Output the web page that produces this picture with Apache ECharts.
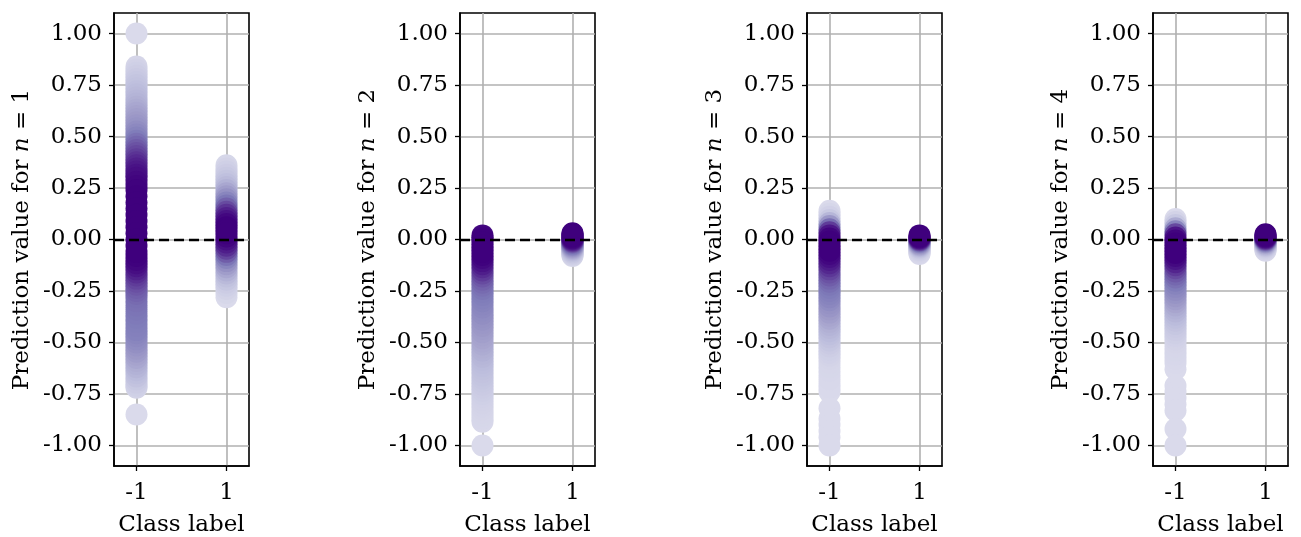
<!DOCTYPE html>
<html>
<head>
<meta charset="utf-8">
<script src="https://cdn.jsdelivr.net/npm/echarts@6/dist/echarts.min.js"></script>
<style>
html,body{margin:0;padding:0;background:#fff;}
#chart{width:1301px;height:537px;}
</style>
</head>
<body>
<div id="chart"></div>
<script>
// ---- Data ----
const classLabels = [-1, 1];
const panelN = [1, 2, 3, 4];
const yTicks = [-1, -0.75, -0.5, -0.25, 0, 0.25, 0.5, 0.75, 1];

// Panel n=1 (prediction values and relative point density)
const n1NegY = [1.00,0.84,0.825,0.81,0.795,0.78,0.765,0.75,0.735,0.72,0.705,0.69,0.675,0.66,0.645,0.63,0.615,0.60,0.585,0.57,0.555,0.54,0.525,0.51,0.495,0.48,0.465,0.45,0.435,0.42,0.405,0.39,0.375,0.36,0.345,0.33,0.315,0.30,0.28,0.26,0.24,0.21,0.18,0.15,0.12,0.09,0.06,0.03,0.00,-0.03,-0.06,-0.08,-0.10,-0.115,-0.13,-0.145,-0.16,-0.175,-0.19,-0.205,-0.22,-0.235,-0.25,-0.265,-0.28,-0.30,-0.32,-0.34,-0.36,-0.38,-0.40,-0.42,-0.44,-0.455,-0.47,-0.485,-0.50,-0.515,-0.53,-0.545,-0.56,-0.575,-0.59,-0.605,-0.62,-0.635,-0.65,-0.665,-0.68,-0.695,-0.71,-0.72,-0.85];
const n1NegD = [0.00,0.03,0.045,0.06,0.075,0.09,0.105,0.12,0.135,0.15,0.165,0.18,0.195,0.21,0.23,0.25,0.27,0.29,0.31,0.33,0.35,0.37,0.40,0.43,0.46,0.50,0.54,0.58,0.62,0.66,0.70,0.74,0.78,0.82,0.86,0.89,0.92,0.94,0.96,0.98,0.99,1.00,1.00,1.00,1.00,1.00,1.00,1.00,1.00,1.00,1.00,0.99,0.97,0.94,0.90,0.85,0.80,0.75,0.71,0.67,0.64,0.61,0.59,0.57,0.55,0.54,0.53,0.52,0.51,0.50,0.49,0.48,0.47,0.45,0.43,0.41,0.39,0.36,0.34,0.32,0.29,0.27,0.24,0.22,0.20,0.17,0.15,0.13,0.10,0.08,0.06,0.04,0.00];
const n1PosY = [0.36,0.345,0.33,0.315,0.30,0.285,0.27,0.255,0.24,0.225,0.21,0.195,0.18,0.165,0.15,0.135,0.12,0.105,0.09,0.075,0.06,0.045,0.03,0.015,0.00,-0.015,-0.03,-0.045,-0.06,-0.075,-0.09,-0.105,-0.12,-0.135,-0.15,-0.165,-0.18,-0.195,-0.21,-0.225,-0.24,-0.26,-0.28];
const n1PosD = [0.02,0.04,0.06,0.08,0.10,0.12,0.15,0.18,0.22,0.27,0.32,0.38,0.45,0.52,0.60,0.69,0.78,0.86,0.92,0.97,1.00,1.00,1.00,0.98,0.93,0.87,0.80,0.71,0.62,0.53,0.45,0.38,0.32,0.27,0.22,0.18,0.14,0.11,0.08,0.06,0.04,0.02,0.00];

// Panel n=2
const n2NegY = [0.02,0.01,0.00,-0.015,-0.03,-0.045,-0.06,-0.075,-0.09,-0.105,-0.12,-0.135,-0.15,-0.165,-0.18,-0.195,-0.21,-0.225,-0.24,-0.255,-0.27,-0.285,-0.30,-0.315,-0.33,-0.345,-0.36,-0.375,-0.39,-0.405,-0.42,-0.435,-0.45,-0.465,-0.48,-0.495,-0.51,-0.525,-0.54,-0.555,-0.57,-0.585,-0.60,-0.615,-0.63,-0.645,-0.66,-0.675,-0.69,-0.705,-0.72,-0.735,-0.75,-0.765,-0.78,-0.795,-0.81,-0.825,-0.84,-0.855,-0.87,-0.885,-1.00];
const n2NegD = [0.97,0.99,1.00,1.00,1.00,1.00,1.00,0.99,0.96,0.92,0.87,0.81,0.75,0.69,0.64,0.60,0.57,0.54,0.52,0.50,0.49,0.47,0.46,0.44,0.43,0.41,0.40,0.38,0.37,0.35,0.34,0.32,0.31,0.29,0.28,0.26,0.25,0.23,0.22,0.20,0.19,0.17,0.16,0.15,0.14,0.13,0.12,0.11,0.10,0.09,0.08,0.07,0.06,0.05,0.045,0.04,0.035,0.03,0.025,0.02,0.015,0.01,0.00];
const n2PosY = [0.03,0.025,0.02,0.015,0.01,0.005,0.00,-0.005,-0.01,-0.015,-0.02,-0.025,-0.03,-0.035,-0.04,-0.045,-0.05,-0.055,-0.06,-0.065,-0.07,-0.075,-0.08];
const n2PosD = [1.00,1.00,1.00,1.00,0.98,0.95,0.88,0.80,0.70,0.60,0.52,0.45,0.38,0.32,0.27,0.22,0.18,0.14,0.11,0.08,0.06,0.04,0.02];

// Panel n=3
const n3NegY = [0.14,0.125,0.11,0.095,0.08,0.065,0.05,0.035,0.02,0.005,-0.01,-0.025,-0.04,-0.055,-0.07,-0.085,-0.10,-0.115,-0.13,-0.145,-0.16,-0.175,-0.19,-0.205,-0.22,-0.235,-0.25,-0.265,-0.28,-0.295,-0.31,-0.325,-0.34,-0.355,-0.37,-0.385,-0.40,-0.415,-0.43,-0.445,-0.46,-0.475,-0.49,-0.505,-0.52,-0.535,-0.55,-0.565,-0.58,-0.60,-0.62,-0.64,-0.66,-0.68,-0.70,-0.72,-0.74,-0.82,-0.87,-0.90,-0.93,-0.96,-1.00];
const n3NegD = [0.00,0.02,0.05,0.10,0.20,0.35,0.55,0.75,0.90,0.98,1.00,1.00,1.00,1.00,0.97,0.93,0.88,0.83,0.77,0.71,0.66,0.62,0.58,0.55,0.52,0.50,0.48,0.46,0.44,0.41,0.38,0.36,0.33,0.31,0.28,0.26,0.23,0.21,0.19,0.17,0.15,0.13,0.11,0.09,0.075,0.06,0.05,0.04,0.03,0.025,0.02,0.015,0.01,0.01,0.005,0.005,0.00,0.00,0.00,0.00,0.00,0.00,0.00];
const n3PosY = [0.02,0.015,0.01,0.005,0.00,-0.005,-0.01,-0.015,-0.02,-0.025,-0.03,-0.035,-0.04,-0.045,-0.05,-0.055,-0.06,-0.065,-0.07];
const n3PosD = [1.00,1.00,0.97,0.90,0.78,0.65,0.52,0.42,0.33,0.26,0.20,0.15,0.11,0.08,0.06,0.04,0.025,0.015,0.005];

// Panel n=4
const n4NegY = [0.10,0.085,0.07,0.055,0.04,0.025,0.01,-0.005,-0.02,-0.035,-0.05,-0.065,-0.08,-0.095,-0.11,-0.125,-0.14,-0.155,-0.17,-0.185,-0.20,-0.215,-0.23,-0.245,-0.26,-0.275,-0.29,-0.305,-0.32,-0.335,-0.35,-0.365,-0.38,-0.395,-0.41,-0.425,-0.44,-0.455,-0.47,-0.485,-0.50,-0.52,-0.54,-0.56,-0.58,-0.60,-0.63,-0.71,-0.74,-0.77,-0.80,-0.83,-0.92,-1.00];
const n4NegD = [0.00,0.04,0.10,0.25,0.45,0.70,0.90,0.98,1.00,1.00,1.00,1.00,0.96,0.91,0.84,0.76,0.69,0.63,0.58,0.54,0.50,0.46,0.43,0.40,0.37,0.34,0.31,0.28,0.25,0.22,0.20,0.17,0.15,0.13,0.11,0.09,0.08,0.065,0.05,0.04,0.03,0.025,0.02,0.015,0.01,0.005,0.00,0.00,0.00,0.00,0.00,0.00,0.00,0.00];
const n4PosY = [0.025,0.02,0.015,0.01,0.005,0.00,-0.005,-0.01,-0.015,-0.02,-0.025,-0.03,-0.035,-0.04,-0.045,-0.05,-0.055];
const n4PosD = [1.00,1.00,0.98,0.93,0.82,0.68,0.54,0.42,0.32,0.24,0.18,0.13,0.09,0.06,0.04,0.025,0.01];

const panels = [
  {neg:[n1NegY,n1NegD], pos:[n1PosY,n1PosD]},
  {neg:[n2NegY,n2NegD], pos:[n2PosY,n2PosD]},
  {neg:[n3NegY,n3NegD], pos:[n3PosY,n3PosD]},
  {neg:[n4NegY,n4NegD], pos:[n4PosY,n4PosD]}
];

// ---- Styling ----
const FONT = 'DejaVu Serif';
const purples = ['#dadaeb','#bcbddc','#9e9ac8','#807dba','#6a51a3','#54278f','#3f007d'];
const gridLefts = [114, 460, 807, 1153];
const gridW = 135, gridTop = 13, gridH = 453;

function build(yArr, dArr, x) {
  const pts = yArr.map((y, k) => [x, y, dArr[k]]);
  pts.sort((a, b) => a[2] - b[2]);
  return pts;
}

const grids = [], xAxes = [], yAxes = [], series = [];
panels.forEach((p, i) => {
  grids.push({left: gridLefts[i], top: gridTop, width: gridW, height: gridH,
    containLabel: false, outerBoundsMode: 'none',
    show: true, borderColor: '#000', borderWidth: 1.6, backgroundColor: 'transparent'});
  xAxes.push({
    type: 'value', gridIndex: i, min: -1.5, max: 1.5,
    axisLine: {show: true, onZero: false, lineStyle: {color: '#000', width: 1.6}},
    axisTick: {show: true, customValues: classLabels, length: 5, lineStyle: {color: '#000', width: 1.3}},
    axisLabel: {customValues: classLabels, formatter: v => String(v), color: '#000',
      fontFamily: FONT, fontSize: 23, margin: 16},
    splitLine: {show: true, lineStyle: {color: '#b0b0b0', width: 1.6}},
    name: 'Class label', nameLocation: 'middle', nameGap: 48,
    nameTextStyle: {fontFamily: FONT, fontSize: 23, color: '#000'}
  });
  yAxes.push({
    type: 'value', gridIndex: i, min: -1.1, max: 1.1,
    axisLine: {show: true, onZero: false, lineStyle: {color: '#000', width: 1.6}},
    axisTick: {show: true, customValues: yTicks, length: 5, lineStyle: {color: '#000', width: 1.3}},
    axisLabel: {customValues: yTicks, formatter: v => v.toFixed(2), color: '#000',
      fontFamily: FONT, fontSize: 23, margin: 12},
    splitLine: {show: true, lineStyle: {color: '#b0b0b0', width: 1.6}},
    name: '{a|Prediction value for }{i|n}{a| = ' + panelN[i] + '}',
    nameLocation: 'middle', nameGap: 80, nameRotate: 90,
    nameTextStyle: {fontFamily: FONT, fontSize: 23, color: '#000',
      rich: {a: {fontFamily: FONT, fontSize: 23, color: '#000'},
             i: {fontFamily: FONT, fontSize: 23, fontStyle: 'italic', color: '#000'}}}
  });
  series.push({
    type: 'scatter', xAxisIndex: i, yAxisIndex: i, symbolSize: 22,
    data: build(p.neg[0], p.neg[1], classLabels[0]),
    itemStyle: {opacity: 1}, silent: true,
    markLine: {silent: true, symbol: ['none','none'], z: 10,
      label: {show: false},
      lineStyle: {type: [10, 5], color: '#000', width: 2.4},
      data: [{yAxis: 0}]}
  });
  series.push({
    type: 'scatter', xAxisIndex: i, yAxisIndex: i, symbolSize: 22,
    data: build(p.pos[0], p.pos[1], classLabels[1]),
    itemStyle: {opacity: 1}, silent: true, z: 3
  });
});

const chart = echarts.init(document.getElementById('chart'), null, {renderer: 'canvas'});
chart.setOption({
  animation: false,
  backgroundColor: '#fff',
  grid: grids, xAxis: xAxes, yAxis: yAxes,
  visualMap: {type: 'continuous', show: false, min: 0, max: 1, dimension: 2,
    seriesIndex: series.map((s, k) => k), inRange: {color: purples}},
  series: series
});
</script>
</body>
</html>
